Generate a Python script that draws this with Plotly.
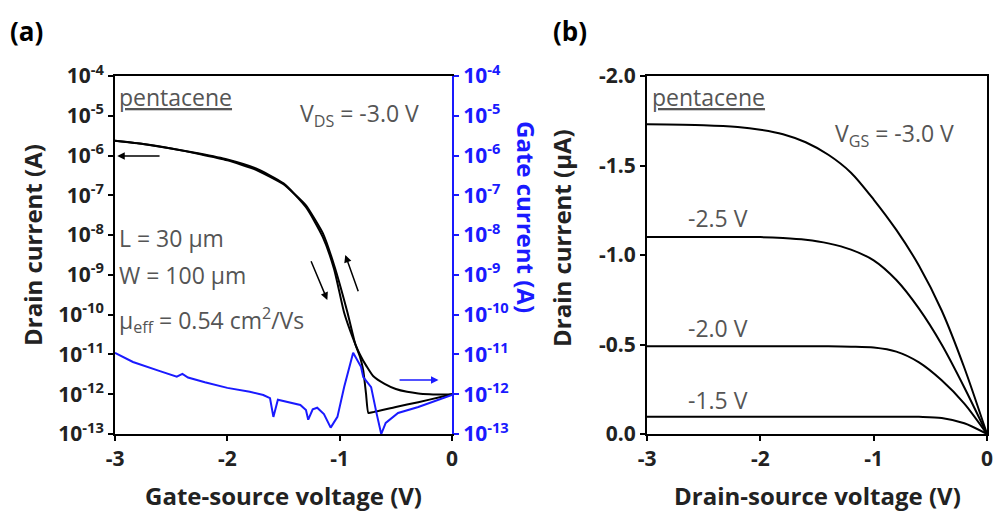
import plotly.graph_objects as go

# ---------------- (a) transfer characteristics, V_DS = -3.0 V ----------------
# drain current, first sweep (log10 of A)
vgs_sweep1 = [-3.0, -2.75, -2.5, -2.25, -2.0, -1.75, -1.5, -1.3, -1.15, -1.05, -0.96,
              -0.88, -0.82, -0.76, -0.7, -0.6, -0.5, -0.4, -0.3, -0.2, -0.1, 0.0]
log_id_sweep1 = [-5.63, -5.71, -5.82, -5.95, -6.1, -6.32, -6.7, -7.3, -8.05, -8.85, -9.95,
                 -10.6, -11.0, -11.3, -11.55, -11.74, -11.87, -11.94, -11.98, -12.0, -12.01, -12.0]

# drain current, return sweep (log10 of A)
vgs_sweep2 = [-3.0, -2.75, -2.5, -2.25, -2.0, -1.75, -1.5, -1.3, -1.15, -1.05, -0.93,
              -0.86, -0.82, -0.79, -0.765, -0.745, -0.7, -0.5, -0.3, -0.1, 0.0]
log_id_sweep2 = [-5.63, -5.71, -5.82, -5.96, -6.12, -6.35, -6.72, -7.25, -7.95, -8.75, -9.95,
                 -10.75, -11.05, -11.4, -12.0, -12.47, -12.45, -12.32, -12.2, -12.07, -12.0]

# gate current (log10 of A)
vgs_gate = [-3.0, -2.84, -2.6, -2.45, -2.4, -2.35, -2.2, -2.0, -1.8, -1.68, -1.62, -1.59,
            -1.55, -1.45, -1.35, -1.3, -1.28, -1.24, -1.2, -1.14, -1.08, -1.02, -0.96,
            -0.88, -0.81, -0.79, -0.72, -0.67, -0.63, -0.59, -0.48, -0.3, -0.125, 0.0]
log_ig = [-10.96, -11.19, -11.42, -11.56, -11.49, -11.58, -11.7, -11.84, -11.94, -12.02, -12.1, -12.57,
          -12.14, -12.2, -12.27, -12.4, -12.64, -12.38, -12.34, -12.5, -12.84, -12.57, -11.82,
          -10.96, -11.31, -11.57, -11.82, -12.5, -13.0, -12.72, -12.47, -12.32, -12.14, -12.02]

# ---------------- (b) output characteristics ----------------
vds = [-3.0, -2.5, -2.2, -2.0, -1.8, -1.6, -1.4, -1.2, -1.0, -0.8, -0.6, -0.4, -0.2, 0.0]
id_vgs_30 = [-1.73, -1.725, -1.715, -1.70, -1.675, -1.63, -1.56, -1.46, -1.31, -1.14, -0.94, -0.69, -0.37, 0.0]
id_vgs_25 = [-1.10, -1.10, -1.10, -1.10, -1.095, -1.085, -1.065, -1.03, -0.97, -0.86, -0.70, -0.50, -0.26, 0.0]
id_vgs_20 = [-0.49, -0.49, -0.49, -0.49, -0.49, -0.49, -0.49, -0.488, -0.483, -0.46, -0.40, -0.30, -0.17, 0.0]
id_vgs_15 = [-0.097, -0.097, -0.097, -0.097, -0.097, -0.097, -0.097, -0.097, -0.097, -0.097, -0.096, -0.09, -0.06, 0.0]
vgs_labels = ["V<sub>GS</sub> = -3.0 V", "-2.5 V", "-2.0 V", "-1.5 V"]

decades = list(range(-4, -14, -1))
log_ticktext = [f"10<sup>{d}</sup>" for d in decades]

FONT = "Open Sans"
GRAY = "#555555"
BLUE = "#1a1aff"

fig = go.Figure()

fig.add_trace(go.Scatter(x=vgs_sweep1, y=[10 ** v for v in log_id_sweep1], mode="lines",
                         line=dict(color="black", width=2, shape="spline", smoothing=0.6),
                         xaxis="x", yaxis="y"))
fig.add_trace(go.Scatter(x=vgs_sweep2, y=[10 ** v for v in log_id_sweep2], mode="lines",
                         line=dict(color="black", width=2, shape="spline", smoothing=0.4),
                         xaxis="x", yaxis="y"))
fig.add_trace(go.Scatter(x=vgs_gate, y=[10 ** v for v in log_ig], mode="lines",
                         line=dict(color=BLUE, width=2),
                         xaxis="x", yaxis="y2"))

for series in (id_vgs_30, id_vgs_25, id_vgs_20, id_vgs_15):
    fig.add_trace(go.Scatter(x=vds, y=series, mode="lines",
                             line=dict(color="black", width=2, shape="spline", smoothing=0.8),
                             xaxis="x3", yaxis="y3"))

W, H = 996, 513
def px(x):
    return x / W
def py(y):
    return 1 - y / H

ydom = [py(434), py(76)]
tickfont = dict(family=FONT, size=21, color="#222222", weight="bold")
common_axis = dict(showgrid=False, zeroline=False, showline=True, linewidth=2, automargin=False,
                   ticks="outside", ticklen=5, tickwidth=2, tickfont=tickfont)

fig.update_layout(
    width=W, height=H, autosize=False,
    margin=dict(l=0, r=0, t=0, b=0, pad=0),
    paper_bgcolor="white", plot_bgcolor="white",
    showlegend=False,
    xaxis=dict(domain=[px(115), px(452)], anchor="y", range=[-3, 0], mirror=True,
               linecolor="black", tickcolor="black",
               tickvals=[-3, -2, -1, 0], ticktext=["-3", "-2", "-1", "0"], **common_axis),
    yaxis=dict(domain=ydom, anchor="x", type="log", range=[-13, -4],
               linecolor="black", tickcolor="black",
               tickvals=[10 ** d for d in decades], ticktext=log_ticktext, **common_axis),
    yaxis2=dict(overlaying="y", side="right", anchor="x", type="log", range=[-13, -4],
                linecolor=BLUE, tickcolor=BLUE,
                tickvals=[10 ** d for d in decades], ticktext=log_ticktext,
                **{**common_axis, "tickfont": {**tickfont, "color": BLUE}}),
    xaxis3=dict(domain=[px(647), px(987)], anchor="y3", range=[-3, 0], mirror=True,
                linecolor="black", tickcolor="black",
                tickvals=[-3, -2, -1, 0], ticktext=["-3", "-2", "-1", "0"], **common_axis),
    yaxis3=dict(domain=ydom, anchor="x3", range=[0, -2.0], mirror=True,
                linecolor="black", tickcolor="black",
                tickvals=[0, -0.5, -1.0, -1.5, -2.0],
                ticktext=["0.0", "-0.5", "-1.0", "-1.5", "-2.0"], **common_axis),
)

ann = []
title_font = dict(family=FONT, size=24, color="#222222", weight="bold")
note_font = dict(family=FONT, size=23, color=GRAY)


def label(text, x, y, font, xanchor="center", angle=0):
    return dict(text=text, x=px(x), y=py(y), xref="paper", yref="paper", showarrow=False,
                xanchor=xanchor, yanchor="middle", textangle=angle, font=font)


# panel letters
letter_font = dict(family=FONT, size=26, color="black", weight="bold")
ann.append(label("(a)", 26, 31, letter_font))
ann.append(label("(b)", 570, 31, letter_font))

# axis titles
ann.append(label("Drain current (A)", 32, 245, title_font, angle=-90))
ann.append(label("Gate current (A)", 527, 217, {**title_font, "color": BLUE}, angle=90))
ann.append(label("Gate-source voltage (V)", 283, 495, title_font))
ann.append(label("Drain current (µA)", 561, 238, title_font, angle=-90))
ann.append(label("Drain-source voltage (V)", 817, 495, title_font))

# notes in panel (a)
for text, x, y in [("<u>pentacene</u>", 117, 97),
                   ("V<sub>DS</sub> = -3.0 V", 298, 115),
                   ("L = 30 µm", 117, 238),
                   ("W = 100 µm", 117, 275),
                   ("µ<sub>eff</sub> = 0.54 cm<sup>2</sup>/Vs", 117, 320)]:
    ann.append(label(text, x, y, note_font, xanchor="left"))

# notes in panel (b)
for text, x, y in [("<u>pentacene</u>", 650, 97),
                   (vgs_labels[0], 833, 135),
                   (vgs_labels[1], 686, 218),
                   (vgs_labels[2], 686, 328),
                   (vgs_labels[3], 686, 400)]:
    ann.append(label(text, x, y, note_font, xanchor="left"))

# sweep-direction arrows in panel (a)
arrow = dict(showarrow=True, arrowhead=2, arrowsize=1, arrowwidth=1.5, text="",
             xref="x", axref="x")
ann.append(dict(**arrow, x=-2.98, y=-6.01, ax=-2.59, ay=-6.01, yref="y", ayref="y", arrowcolor="black"))
ann.append(dict(**arrow, x=-1.11, y=-9.63, ax=-1.26, ay=-8.62, yref="y", ayref="y", arrowcolor="black"))
ann.append(dict(**arrow, x=-0.95, y=-8.5, ax=-0.83, ay=-9.45, yref="y", ayref="y", arrowcolor="black"))
ann.append(dict(**arrow, x=-0.12, y=-11.64, ax=-0.48, ay=-11.64, yref="y2", ayref="y2", arrowcolor=BLUE))

fig.update_layout(annotations=ann)
fig.write_html("out.html")
